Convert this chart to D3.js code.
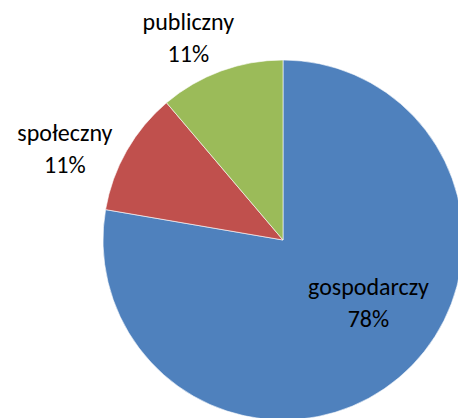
<!DOCTYPE html>
<html>
<head>
<meta charset="utf-8">
<script src="https://cdn.jsdelivr.net/npm/d3@7"></script>
<style>
  html, body { margin: 0; padding: 0; background: #fff; }
  svg { display: block; }
  text { font-family: Calibri, Carlito, Lato, sans-serif; fill: #000; }
</style>
</head>
<body>
<div id="chart"></div>
<script>
// --- data
var categories = ['gospodarczy', 'społeczny', 'publiczny'];
var values = [77.7, 11.1, 11.2];
var colors = ['#4F81BD', '#C0504D', '#9BBB59'];

var W = 458, H = 418;
var cx = 283, cy = 240, R = 180;

var svg = d3.select('#chart').append('svg')
  .attr('width', W)
  .attr('height', H);

var g = svg.append('g')
  .attr('transform', 'translate(' + cx + ',' + cy + ')');

var pie = d3.pie().sort(null).value(function(d) { return d; });
var arcs = pie(values);

var arc = d3.arc().innerRadius(0).outerRadius(R);

g.selectAll('path.slice')
  .data(arcs)
  .enter().append('path')
  .attr('class', 'slice')
  .attr('d', arc)
  .style('fill', function(d, i) { return colors[i]; })
  .style('stroke', '#fff')
  .style('stroke-width', 0.6);

// label placement (excel "best fit" look): radius + small nudge per slice
var labelR = [0.62 * R, 1.25 * R, 1.22 * R];
var nudge = [[13.5, -30], [-22.7, 12.7], [-19, -3.8]];
var lineGap = 32;
var total = d3.sum(values);

var labels = g.selectAll('g.lbl')
  .data(arcs)
  .enter().append('g')
  .attr('class', 'lbl')
  .attr('transform', function(d, i) {
    var c = d3.arc().innerRadius(labelR[i]).outerRadius(labelR[i]).centroid(d);
    return 'translate(' + (c[0] + nudge[i][0]) + ',' + (c[1] + nudge[i][1]) + ')';
  });

labels.append('text')
  .attr('text-anchor', 'middle')
  .attr('y', 0)
  .style('font-size', '24px')
  .text(function(d, i) { return categories[i]; });

labels.append('text')
  .attr('text-anchor', 'middle')
  .attr('y', lineGap)
  .style('font-size', '24px')
  .text(function(d, i) { return Math.round(d.value / total * 100) + '%'; });
</script>
</body>
</html>
